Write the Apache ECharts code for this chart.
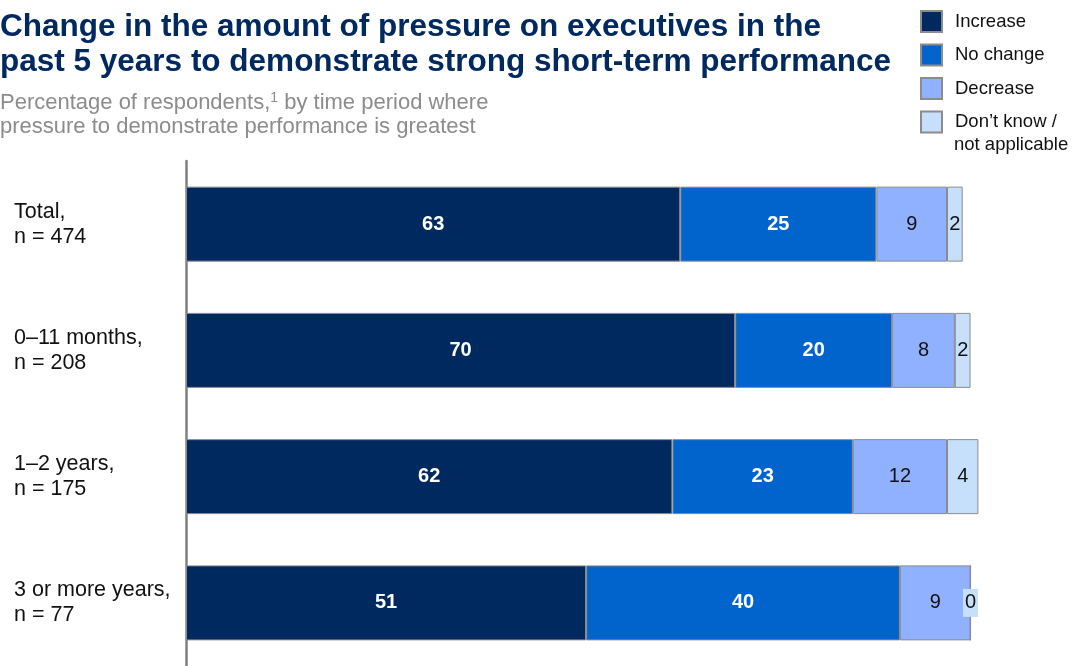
<!DOCTYPE html>
<html>
<head>
<meta charset="utf-8">
<script src="https://cdn.jsdelivr.net/npm/echarts@6/dist/echarts.min.js"></script>
<style>
html,body{margin:0;padding:0;background:#fff;}
#chart{width:1077px;height:666px;}
</style>
</head>
<body>
<div id="chart"></div>
<script>
const categories = ['Total,\nn = 474', '0\u201311 months,\nn = 208', '1\u20132 years,\nn = 175', '3 or more years,\nn = 77'];
const seriesNames = ['Increase', 'No change', 'Decrease', 'Don\u2019t know / not applicable'];
const increase = [63, 70, 62, 51];
const noChange = [25, 20, 23, 40];
const decrease = [9, 8, 12, 9];
const dontKnow = [2, 2, 4, 0];

const colors = ['#002960', '#0064CC', '#8FB1FF', '#C6DFFA'];
const FONT = 'Liberation Sans, Arial, sans-serif';

const chart = echarts.init(document.getElementById('chart'), null, {renderer: 'canvas'});

function makeSeries(name, data, idx) {
  const dark = idx < 2;
  return {
    name: name,
    type: 'bar',
    stack: 'total',
    barWidth: 75,
    data: data.map(v => (idx === 3 && v === 0) ? {value: v, label: {backgroundColor: colors[3], padding: [5, 2, 3, 2]}} : v),
    itemStyle: {color: colors[idx], borderColor: '#8c8c8c', borderWidth: 1},
    label: {
      show: true,
      position: 'inside',
      formatter: '{c}',
      fontFamily: FONT,
      fontSize: 20,
      fontWeight: dark ? 'bold' : 'normal',
      color: dark ? '#ffffff' : '#111111'
    },
    emphasis: {disabled: true}
  };
}

const option = {
  backgroundColor: '#ffffff',
  animation: false,
  title: [
    {
      text: 'Change in the amount of pressure on executives in the\npast 5 years to demonstrate strong short-term performance',
      left: 0, top: 10, padding: 0,
      textStyle: {fontFamily: FONT, fontSize: 31.5, fontWeight: 'bold', color: '#002960', lineHeight: 35}
    },
    {
      text: '{a|Percentage of respondents,}{s|1}{a| by time period where}\n{a|pressure to demonstrate performance is greatest}',
      left: 0, top: 91, padding: 0,
      textStyle: {
        fontWeight: 'normal',
        rich: {
          a: {fontFamily: FONT, fontSize: 22, fontWeight: 'normal', color: '#8c8c8c', lineHeight: 24},
          s: {fontFamily: FONT, fontSize: 14, fontWeight: 'normal', color: '#8c8c8c', lineHeight: 24, verticalAlign: 'top', padding: [0, 0, 8, 0]}
        }
      }
    }
  ],
  legend: {
    orient: 'vertical',
    left: 920,
    top: 10,
    padding: 0,
    itemWidth: 21,
    itemHeight: 21,
    itemGap: 10.5,
    icon: 'rect',
    selectedMode: false,
    data: seriesNames,
    formatter: function (name) { return name === seriesNames[3] ? 'Don\u2019t know /' : name; },
    textStyle: {fontFamily: FONT, fontSize: 18.5, lineHeight: 21, color: '#111111', padding: [0, 0, 0, 8]}
  },
  graphic: [
    {
      type: 'text', left: 954, top: 135,
      style: {text: 'not applicable', fontFamily: FONT, fontSize: 18.5, fill: '#111111'}
    }
  ],
  grid: {left: 186, right: 28, top: 161, height: 507, containLabel: false},
  xAxis: {type: 'value', min: 0, max: 110, show: false},
  yAxis: {
    type: 'category',
    inverse: true,
    data: categories,
    axisLine: {show: true, lineStyle: {color: '#808080', width: 2.5}},
    axisTick: {show: false},
    splitLine: {show: false},
    axisLabel: {
      align: 'left', margin: 172,
      fontFamily: FONT, fontSize: 21.5, color: '#111111', lineHeight: 25
    }
  },
  series: [
    makeSeries(seriesNames[0], increase, 0),
    makeSeries(seriesNames[1], noChange, 1),
    makeSeries(seriesNames[2], decrease, 2),
    makeSeries(seriesNames[3], dontKnow, 3)
  ]
};
chart.setOption(option);
</script>
</body>
</html>
